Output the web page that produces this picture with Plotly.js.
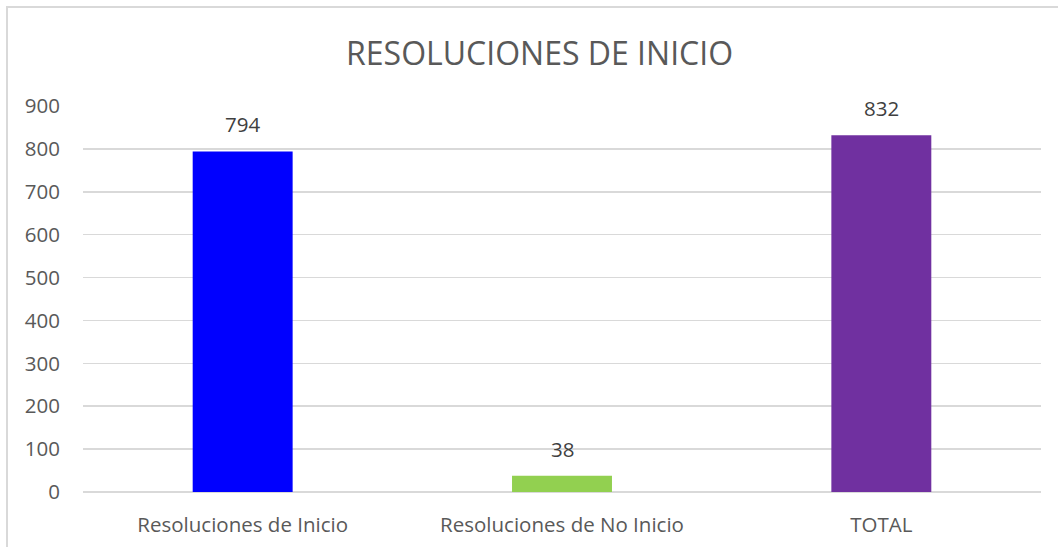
<!DOCTYPE html>
<html>
<head>
<meta charset="utf-8">
<script src="https://cdn.plot.ly/plotly-3.0.1.min.js"></script>
<style>
  html, body { margin: 0; padding: 0; background: #ffffff; overflow: hidden; }
  #frame { position: absolute; left: 6px; top: 6px; width: 1200px; height: 700px;
           border: 2px solid #d9d9d9; box-sizing: border-box; }
  #chart { position: absolute; left: 0; top: 0; width: 1058px; height: 547px; }
</style>
</head>
<body>
<div id="frame"></div>
<div id="chart"></div>
<script>
const categories = ["Resoluciones de Inicio", "Resoluciones de No Inicio", "TOTAL"];
const values = [794, 38, 832];
const barColors = ["#0000FF", "#92D050", "#7030A0"];
const yTicks = [0, 100, 200, 300, 400, 500, 600, 700, 800, 900];

const FONT = "'Open Sans', Lato, sans-serif";

const trace = {
  type: "bar",
  x: categories,
  y: values,
  marker: { color: barColors },
  hoverinfo: "none"
};

const annotations = categories.map((c, i) => ({
  x: c, y: values[i], xref: "x", yref: "y",
  text: String(values[i]), showarrow: false,
  yanchor: "bottom", yshift: 11,
  font: { family: FONT, size: 20.5, color: "#404040" }
}));

const layout = {
  width: 1058, height: 547,
  paper_bgcolor: "rgba(0,0,0,0)",
  plot_bgcolor: "rgba(0,0,0,0)",
  margin: { l: 83, r: 17, t: 106, b: 55 },
  bargap: 0.687,
  showlegend: false,
  title: {
    text: "RESOLUCIONES DE INICIO",
    x: 0.51, xanchor: "center",
    y: 1 - 54 / 547, yanchor: "middle", yref: "container",
    font: { family: FONT, size: 32, color: "#595959" }
  },
  xaxis: {
    type: "category",
    showgrid: false, zeroline: false, showline: false,
    ticks: "", ticklabelstandoff: 18,
    tickfont: { family: FONT, size: 20.5, color: "#595959" },
    fixedrange: true
  },
  yaxis: {
    range: [0, 900],
    tickvals: yTicks,
    ticktext: yTicks.map(String),
    showgrid: true, gridcolor: "#d9d9d9", gridwidth: 1.5,
    zeroline: true, zerolinecolor: "#d9d9d9", zerolinewidth: 1.5,
    showline: false, ticks: "", ticklabelstandoff: 22,
    tickfont: { family: FONT, size: 20.5, color: "#595959" },
    fixedrange: true
  },
  annotations: annotations
};

Plotly.newPlot("chart", [trace], layout, { displayModeBar: false, staticPlot: true });
</script>
</body>
</html>
